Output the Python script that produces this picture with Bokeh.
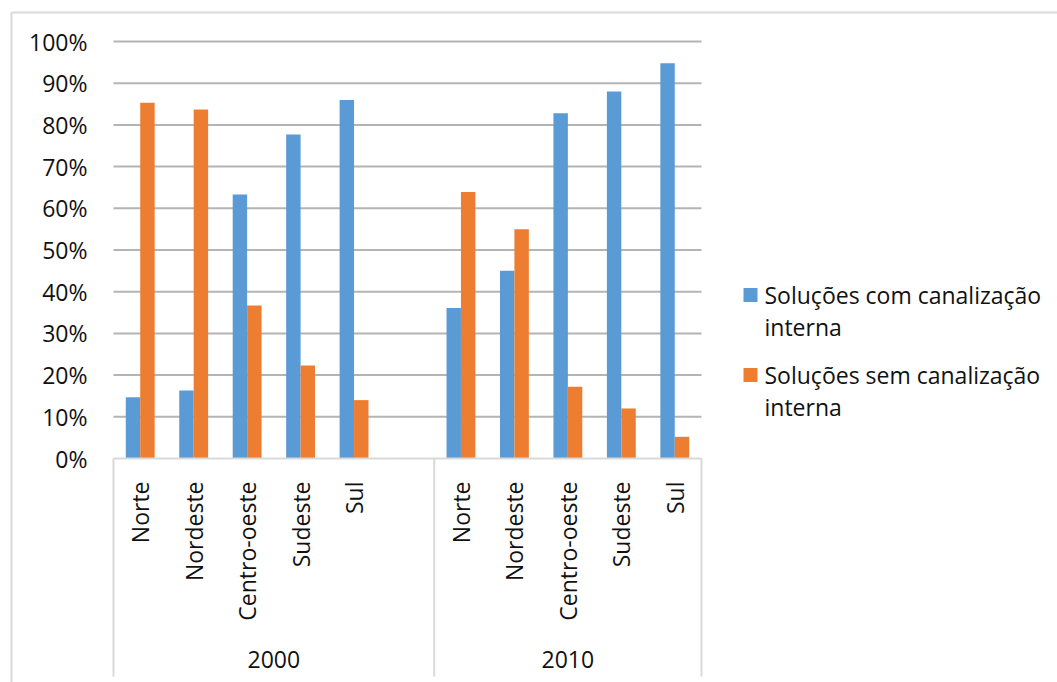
import math
from bokeh.plotting import figure
from bokeh.models import Range1d
from bokeh.core.properties import value
from bokeh.embed import file_html
from bokeh.resources import INLINE

# ---------------- data ----------------
regions = ["Norte", "Nordeste", "Centro-oeste", "Sudeste", "Sul"]
years = ["2000", "2010"]
com_2000 = [14.7, 16.3, 63.3, 77.7, 86.0]
sem_2000 = [85.3, 83.7, 36.7, 22.3, 14.0]
com_2010 = [36.1, 45.0, 82.8, 88.0, 94.8]
sem_2010 = [63.9, 55.0, 17.2, 12.0, 5.2]
series_names = ["Soluções com canalização\ninterna", "Soluções sem canalização\ninterna"]
y_ticks = [0, 10, 20, 30, 40, 50, 60, 70, 80, 90, 100]
y_tick_labels = ["0%", "10%", "20%", "30%", "40%", "50%", "60%", "70%", "80%", "90%", "100%"]

# ---------------- layout ----------------
W, H = 1057, 682
L, R, T, B = 113, 701, 41, 458          # plot area in pixels
group_slots = [6, 5]                     # 2000 has an empty trailing slot
n_slots = sum(group_slots)
slot_px = (R - L) / n_slots
px_per_unit = (B - T) / 100.0
FONT = value("Open Sans")
FS = "23px"
TXT = "#111111"
BLUE, ORANGE = "#5B9BD5", "#ED7D31"


def dx(px):
    return (px - L) / slot_px


def dy(py):
    return (B - py) / px_per_unit


p = figure(width=W, height=H, output_backend="svg", toolbar_location=None,
           x_range=Range1d(dx(0), dx(W)), y_range=Range1d(dy(H), dy(0)),
           x_axis_location=None, y_axis_location=None, min_border=0)
p.grid.visible = False
p.outline_line_color = None
p.background_fill_color = "white"
p.border_fill_color = "white"

# category positions
offsets = [0, group_slots[0]]
xs, labels = [], []
for g, off in enumerate(offsets):
    for i, r in enumerate(regions):
        xs.append(off + i + 0.5)
        labels.append(r)
com = com_2000 + com_2010
sem = sem_2000 + sem_2010

# gridlines
p.segment(x0=[0] * 10, x1=[n_slots] * 10, y0=y_ticks[1:], y1=y_ticks[1:],
          line_color="#b4b4b4", line_width=2)

bw = 0.27
rb = p.vbar(x=[x - bw / 2 for x in xs], top=com, width=bw, bottom=0,
            fill_color=BLUE, line_color=None)
ro = p.vbar(x=[x + bw / 2 for x in xs], top=sem, width=bw, bottom=0,
            fill_color=ORANGE, line_color=None)

# category axis line and group separators
p.segment(x0=[0], x1=[n_slots], y0=[0], y1=[0], line_color="#d9d9d9", line_width=2)
sep_x = [0, group_slots[0], n_slots]
p.segment(x0=sep_x, x1=sep_x, y0=[0] * 3, y1=[dy(676)] * 3,
          line_color="#d9d9d9", line_width=2)

# outer chart border (top and left visible)
p.segment(x0=[dx(11), dx(11)], x1=[dx(W + 10), dx(11)], y0=[dy(12), dy(12)],
          y1=[dy(12), dy(H + 10)], line_color="#d9d9d9", line_width=2)

# y tick labels
p.text(x=[0] * len(y_ticks), y=y_ticks, text=y_tick_labels, x_offset=-26,
       text_align="right", text_baseline="middle", text_font=FONT,
       text_font_size=FS, text_color=TXT)

# category labels
p.text(x=xs, y=[0] * len(xs), text=labels, angle=math.pi / 2, y_offset=23,
       text_align="right", text_baseline="middle", text_font=FONT,
       text_font_size=FS, text_color=TXT)

# group labels
gx = [group_slots[0] / 2, group_slots[0] + group_slots[1] / 2]
p.text(x=gx, y=[0, 0], text=years, y_offset=201, text_align="center",
       text_baseline="middle", text_font=FONT, text_font_size=FS, text_color=TXT)

# legend (swatch aligned with the first line of a two-line label)
leg_sq_y = [dy(294.5), dy(374.5)]
p.scatter(x=[dx(750)] * 2, y=leg_sq_y, marker="square", size=14,
          fill_color=[BLUE, ORANGE], line_color=None)
p.text(x=[dx(764)] * 2, y=leg_sq_y, text=series_names, y_offset=15.5,
       text_align="left", text_baseline="middle", text_line_height=1.0,
       text_font=FONT, text_font_size=FS, text_color=TXT)

open("out.html", "w").write(file_html(p, INLINE))
